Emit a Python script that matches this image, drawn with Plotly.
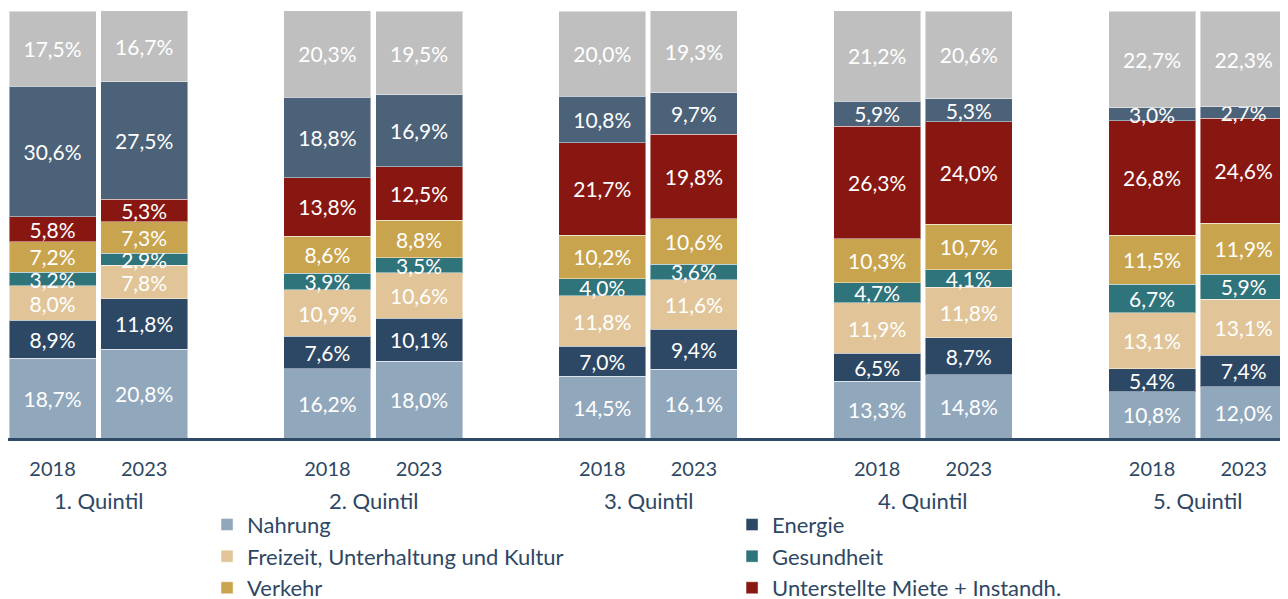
import plotly.graph_objects as go

quintiles = ["1. Quintil", "2. Quintil", "3. Quintil", "4. Quintil", "5. Quintil"]
years = ["2018", "2023"]

nahrung    = [18.7, 20.8, 16.2, 18.0, 14.5, 16.1, 13.3, 14.8, 10.8, 12.0]
energie    = [8.9, 11.8, 7.6, 10.1, 7.0, 9.4, 6.5, 8.7, 5.4, 7.4]
freizeit   = [8.0, 7.8, 10.9, 10.6, 11.8, 11.6, 11.9, 11.8, 13.1, 13.1]
gesundheit = [3.2, 2.9, 3.9, 3.5, 4.0, 3.6, 4.7, 4.1, 6.7, 5.9]
verkehr    = [7.2, 7.3, 8.6, 8.8, 10.2, 10.6, 10.3, 10.7, 11.5, 11.9]
miete      = [5.8, 5.3, 13.8, 12.5, 21.7, 19.8, 26.3, 24.0, 26.8, 24.6]
wohnen     = [30.6, 27.5, 18.8, 16.9, 10.8, 9.7, 5.9, 5.3, 3.0, 2.7]
sonstiges  = [17.5, 16.7, 20.3, 19.5, 20.0, 19.3, 21.2, 20.6, 22.7, 22.3]

series = [
    ("Nahrung", nahrung, "#91A7BC", True),
    ("Energie", energie, "#2D4864", True),
    ("Freizeit, Unterhaltung und Kultur", freizeit, "#E1C599", True),
    ("Gesundheit", gesundheit, "#2F737B", True),
    ("Verkehr", verkehr, "#C9A44E", True),
    ("Unterstellte Miete + Instandh.", miete, "#891711", True),
    ("Wohnen", wohnen, "#4C6279", False),
    ("Sonstiges", sonstiges, "#BFBFBF", False),
]

# x positions: two bars per quintile, one empty slot between quintiles
xpos = []
xlab = []
for qi in range(len(quintiles)):
    for yi in range(len(years)):
        xpos.append(qi * 3 + yi)
        xlab.append(years[yi])

FONT = "Lato"
TXT = "#2E4763"

fig = go.Figure()
for name, vals, color, show in series:
    fig.add_trace(go.Bar(
        x=xpos, y=vals, name=name, showlegend=show,
        marker=dict(color=color, line=dict(color="rgba(255,255,255,0.45)", width=1)),
        text=[f"{v:.1f}".replace(".", ",") + "%" for v in vals],
        textposition="inside", insidetextanchor="middle", constraintext="none",
        textfont=dict(color="white", size=21, family=FONT),
        textangle=0,
    ))

for qi, q in enumerate(quintiles):
    fig.add_annotation(x=qi * 3 + 0.5, xref="x", y=-0.1475, yref="paper",
                       text=q, showarrow=False, yanchor="middle",
                       font=dict(size=22, color=TXT, family=FONT))

fig.update_layout(
    width=1280, height=591,
    barmode="stack", bargap=0.05,
    margin=dict(l=0, r=0, t=3, b=161, autoexpand=False),
    plot_bgcolor="white", paper_bgcolor="white",
    font=dict(family=FONT, color=TXT, size=20),
    xaxis=dict(range=[-0.486, 13.484], tickvals=xpos, ticktext=xlab, showgrid=False,
               zeroline=False, showline=True, linecolor="#2E4A66", linewidth=3,
               ticks="", ticklabelstandoff=11, tickfont=dict(size=20, color=TXT, family=FONT)),
    yaxis=dict(range=[0, 100], visible=False, showgrid=False),
    legend=dict(orientation="h", x=0.1555, xanchor="left", y=-0.154, yanchor="top",
                entrywidth=480, entrywidthmode="pixels", traceorder="normal",
                font=dict(size=22, color=TXT, family=FONT), itemwidth=30),
)

fig.write_html("out.html")
